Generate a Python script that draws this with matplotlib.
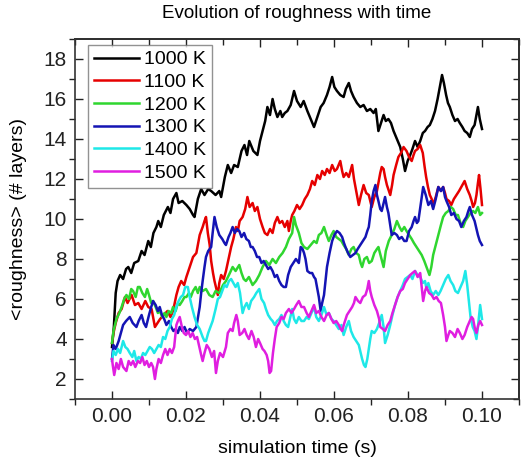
import matplotlib
matplotlib.use("Agg")
import matplotlib.pyplot as plt
from matplotlib.ticker import MultipleLocator, NullFormatter

plt.rcParams['font.family'] = ['Liberation Sans', 'DejaVu Sans']

# roughness traces: (time s, roughness in layers)
s1000 = [(0.0000, 3.6), (0.0005, 4.6), (0.0010, 6.3), (0.0015, 6.9), (0.0022, 7.2), (0.0030, 7.0),
         (0.0038, 7.5), (0.0044, 7.6), (0.0052, 7.3), (0.0060, 7.8), (0.0071, 7.9), (0.0080, 8.4),
         (0.0088, 8.2), (0.0098, 8.9), (0.0105, 8.6), (0.0112, 9.3), (0.0120, 9.6), (0.0125, 9.9),
         (0.0132, 9.6), (0.0140, 10.2), (0.0151, 10.6), (0.0158, 10.3), (0.0165, 11.0), (0.0174, 11.3),
         (0.0180, 10.8), (0.0190, 10.9), (0.0201, 10.7), (0.0210, 10.5), (0.0219, 10.2), (0.0223, 10.1),
         (0.0232, 11.0), (0.0241, 11.5), (0.0250, 11.2), (0.0260, 11.5), (0.0268, 11.4), (0.0280, 11.2),
         (0.0290, 11.4), (0.0295, 11.1), (0.0305, 12.1), (0.0313, 12.7), (0.0322, 12.3), (0.0330, 12.7),
         (0.0340, 12.6), (0.0350, 13.4), (0.0358, 13.7), (0.0365, 13.2), (0.0371, 13.9), (0.0382, 13.4),
         (0.0393, 13.2), (0.0400, 13.9), (0.0407, 14.4), (0.0414, 14.9), (0.0420, 15.6), (0.0427, 15.2),
         (0.0434, 16.0), (0.0440, 15.5), (0.0447, 15.1), (0.0455, 15.4), (0.0460, 15.1), (0.0467, 15.3),
         (0.0474, 15.4), (0.0483, 15.7), (0.0492, 16.4), (0.0500, 15.9), (0.0510, 15.6), (0.0518, 15.9),
         (0.0528, 15.4), (0.0537, 15.0), (0.0546, 14.6), (0.0555, 15.1), (0.0564, 15.6), (0.0572, 15.8),
         (0.0581, 16.2), (0.0588, 16.6), (0.0595, 17.1), (0.0601, 16.6), (0.0608, 16.4), (0.0617, 16.2),
         (0.0626, 16.1), (0.0632, 16.5), (0.0640, 16.8), (0.0646, 16.4), (0.0653, 16.1), (0.0662, 15.8),
         (0.0671, 15.6), (0.0680, 15.7), (0.0689, 15.4), (0.0698, 15.5), (0.0707, 15.3), (0.0713, 15.5),
         (0.0720, 14.4), (0.0727, 14.8), (0.0734, 15.2), (0.0740, 14.9), (0.0747, 15.0), (0.0754, 14.8),
         (0.0761, 14.4), (0.0770, 14.0), (0.0779, 13.6), (0.0786, 13.0), (0.0792, 12.4), (0.0799, 12.9),
         (0.0806, 13.2), (0.0812, 13.5), (0.0819, 13.9), (0.0826, 13.6), (0.0833, 13.9), (0.0840, 14.3),
         (0.0846, 14.4), (0.0853, 14.6), (0.0859, 14.7), (0.0866, 15.0), (0.0873, 15.4), (0.0880, 16.0),
         (0.0886, 16.6), (0.0892, 17.2), (0.0897, 16.8), (0.0903, 16.2), (0.0908, 15.8), (0.0913, 15.6),
         (0.0920, 15.2), (0.0927, 14.9), (0.0934, 15.0), (0.0940, 14.8), (0.0947, 14.6), (0.0953, 14.4),
         (0.0960, 14.3), (0.0967, 14.1), (0.0973, 14.5), (0.0980, 14.7), (0.0985, 15.2), (0.0989, 15.6),
         (0.0994, 15.0), (0.1000, 14.5)]

s1100 = [(0.0000, 3.8), (0.0004, 4.3), (0.0010, 4.8), (0.0018, 5.3), (0.0026, 5.5), (0.0035, 6.1),
         (0.0042, 5.8), (0.0053, 6.2), (0.0062, 5.7), (0.0071, 5.8), (0.0080, 5.5), (0.0090, 5.9),
         (0.0098, 5.6), (0.0107, 5.5), (0.0112, 5.0), (0.0116, 4.6), (0.0130, 5.0), (0.0140, 5.2),
         (0.0150, 5.4), (0.0158, 5.1), (0.0165, 5.4), (0.0174, 6.2), (0.0180, 6.6), (0.0187, 6.9),
         (0.0195, 6.7), (0.0201, 7.1), (0.0210, 7.6), (0.0219, 8.1), (0.0228, 8.3), (0.0237, 9.2),
         (0.0245, 9.6), (0.0250, 9.9), (0.0254, 10.1), (0.0259, 9.3), (0.0264, 8.7), (0.0268, 7.9),
         (0.0273, 7.3), (0.0277, 6.9), (0.0282, 6.5), (0.0286, 6.2), (0.0290, 6.8), (0.0295, 7.2),
         (0.0302, 7.0), (0.0308, 7.4), (0.0315, 8.0), (0.0322, 8.6), (0.0328, 9.0), (0.0335, 9.6),
         (0.0340, 9.4), (0.0345, 9.9), (0.0353, 10.1), (0.0360, 10.5), (0.0366, 11.1), (0.0372, 10.6),
         (0.0380, 10.8), (0.0386, 10.4), (0.0393, 10.6), (0.0400, 10.0), (0.0407, 9.6), (0.0413, 9.3),
         (0.0420, 9.2), (0.0427, 9.5), (0.0434, 9.3), (0.0440, 9.8), (0.0447, 10.1), (0.0453, 9.8),
         (0.0460, 9.9), (0.0467, 9.6), (0.0474, 9.9), (0.0478, 9.4), (0.0483, 9.9), (0.0487, 10.2),
         (0.0493, 10.4), (0.0500, 10.7), (0.0507, 10.5), (0.0514, 10.7), (0.0521, 11.0), (0.0528, 11.2),
         (0.0535, 11.5), (0.0541, 11.9), (0.0548, 11.7), (0.0555, 12.2), (0.0562, 12.0), (0.0568, 12.4),
         (0.0575, 12.2), (0.0581, 12.5), (0.0588, 12.3), (0.0595, 12.7), (0.0602, 12.4), (0.0608, 12.5),
         (0.0617, 12.9), (0.0622, 12.4), (0.0626, 12.1), (0.0633, 12.3), (0.0640, 12.1), (0.0649, 12.7),
         (0.0654, 12.0), (0.0658, 11.6), (0.0663, 11.1), (0.0667, 10.7), (0.0673, 11.2), (0.0680, 11.7),
         (0.0687, 11.3), (0.0694, 11.2), (0.0702, 10.6), (0.0709, 11.1), (0.0716, 11.4), (0.0720, 11.8),
         (0.0725, 12.3), (0.0729, 12.6), (0.0734, 12.5), (0.0738, 12.1), (0.0743, 11.7), (0.0752, 11.2),
         (0.0757, 11.7), (0.0761, 12.2), (0.0768, 12.7), (0.0774, 13.1), (0.0781, 13.3), (0.0788, 13.6),
         (0.0796, 13.4), (0.0803, 13.1), (0.0810, 12.9), (0.0815, 13.2), (0.0819, 13.4), (0.0826, 13.5),
         (0.0833, 13.7), (0.0840, 13.3), (0.0845, 12.6), (0.0849, 12.1), (0.0854, 11.6), (0.0859, 11.2),
         (0.0864, 11.0), (0.0868, 10.7), (0.0875, 11.1), (0.0882, 11.6), (0.0889, 11.4), (0.0895, 11.6),
         (0.0900, 11.3), (0.0904, 11.0), (0.0911, 10.9), (0.0917, 10.7), (0.0924, 11.0), (0.0931, 11.2),
         (0.0938, 11.4), (0.0944, 11.6), (0.0953, 11.9), (0.0960, 11.5), (0.0967, 11.2), (0.0972, 10.9),
         (0.0976, 10.6), (0.0981, 10.8), (0.0985, 11.2), (0.0989, 11.8), (0.0992, 12.2), (0.0996, 11.5),
         (0.1000, 10.7)]

s1200 = [(0.0000, 3.8), (0.0004, 4.4), (0.0012, 5.0), (0.0020, 5.3), (0.0026, 5.6), (0.0033, 6.0),
         (0.0039, 6.2), (0.0046, 6.0), (0.0052, 6.5), (0.0057, 6.4), (0.0064, 6.1), (0.0070, 6.6),
         (0.0075, 6.6), (0.0082, 6.3), (0.0089, 6.1), (0.0095, 6.5), (0.0100, 6.2), (0.0106, 5.8),
         (0.0111, 5.9), (0.0118, 5.6), (0.0124, 5.3), (0.0129, 5.4), (0.0136, 5.1), (0.0142, 5.3),
         (0.0147, 5.1), (0.0153, 5.4), (0.0160, 5.3), (0.0165, 5.6), (0.0172, 5.4), (0.0178, 5.8),
         (0.0183, 5.7), (0.0190, 5.9), (0.0196, 6.1), (0.0201, 6.1), (0.0208, 6.3), (0.0213, 6.1),
         (0.0219, 6.4), (0.0226, 6.6), (0.0232, 6.3), (0.0237, 6.6), (0.0245, 6.4), (0.0254, 6.5),
         (0.0263, 6.2), (0.0272, 6.1), (0.0280, 6.4), (0.0290, 6.3), (0.0300, 6.7), (0.0308, 6.9),
         (0.0316, 7.2), (0.0326, 7.6), (0.0334, 7.4), (0.0344, 7.7), (0.0350, 7.3), (0.0356, 7.0),
         (0.0362, 6.9), (0.0370, 7.1), (0.0380, 6.7), (0.0389, 6.9), (0.0398, 7.2), (0.0407, 7.6),
         (0.0416, 7.9), (0.0425, 7.7), (0.0434, 8.0), (0.0443, 7.8), (0.0452, 8.1), (0.0461, 8.3),
         (0.0470, 8.6), (0.0478, 9.0), (0.0487, 9.3), (0.0492, 10.1), (0.0497, 9.7), (0.0505, 9.3),
         (0.0512, 8.8), (0.0519, 8.6), (0.0528, 8.5), (0.0537, 8.7), (0.0546, 8.9), (0.0553, 8.8),
         (0.0559, 9.2), (0.0566, 9.3), (0.0573, 9.6), (0.0580, 9.2), (0.0586, 8.9), (0.0593, 9.2),
         (0.0599, 9.4), (0.0606, 9.1), (0.0613, 9.0), (0.0620, 8.9), (0.0626, 8.7), (0.0633, 8.5),
         (0.0640, 8.2), (0.0647, 8.5), (0.0653, 8.6), (0.0660, 8.3), (0.0667, 8.2), (0.0672, 7.8),
         (0.0676, 7.6), (0.0682, 8.0), (0.0689, 8.1), (0.0695, 7.8), (0.0702, 7.9), (0.0709, 8.3),
         (0.0716, 8.5), (0.0720, 8.6), (0.0727, 8.1), (0.0734, 7.6), (0.0740, 8.4), (0.0748, 8.9),
         (0.0756, 9.2), (0.0763, 9.5), (0.0770, 9.9), (0.0777, 9.6), (0.0783, 9.4), (0.0790, 9.6),
         (0.0796, 9.4), (0.0803, 9.2), (0.0810, 9.0), (0.0816, 8.8), (0.0823, 8.6), (0.0830, 8.4),
         (0.0837, 8.2), (0.0844, 7.9), (0.0850, 7.6), (0.0858, 7.2), (0.0863, 7.6), (0.0868, 8.2),
         (0.0875, 8.7), (0.0882, 9.2), (0.0889, 9.7), (0.0895, 10.1), (0.0902, 10.3), (0.0909, 10.4),
         (0.0916, 10.6), (0.0922, 10.5), (0.0929, 10.2), (0.0935, 10.2), (0.0942, 9.8), (0.0949, 9.6),
         (0.0955, 9.9), (0.0962, 10.1), (0.0969, 10.3), (0.0976, 10.4), (0.0982, 10.3), (0.0989, 10.6),
         (0.0995, 10.2), (0.1000, 10.3)]

s1300 = [(0.0000, 3.0), (0.0004, 3.7), (0.0010, 3.5), (0.0018, 3.9), (0.0024, 4.3), (0.0030, 4.7),
         (0.0038, 4.9), (0.0048, 5.1), (0.0056, 4.8), (0.0066, 4.6), (0.0072, 4.9), (0.0080, 5.2),
         (0.0086, 4.8), (0.0092, 4.6), (0.0100, 5.2), (0.0106, 5.6), (0.0111, 5.9), (0.0118, 5.7),
         (0.0124, 5.4), (0.0129, 5.6), (0.0135, 5.2), (0.0141, 5.0), (0.0147, 4.7), (0.0154, 4.9),
         (0.0160, 4.6), (0.0166, 4.4), (0.0172, 4.5), (0.0178, 4.3), (0.0183, 4.6), (0.0190, 4.4),
         (0.0196, 4.6), (0.0203, 4.3), (0.0210, 4.5), (0.0219, 4.4), (0.0228, 4.6), (0.0237, 5.6),
         (0.0241, 6.3), (0.0245, 6.9), (0.0250, 7.6), (0.0254, 8.1), (0.0260, 8.4), (0.0268, 8.6),
         (0.0272, 9.3), (0.0277, 10.1), (0.0283, 9.6), (0.0290, 9.2), (0.0298, 9.0), (0.0304, 8.8),
         (0.0308, 8.7), (0.0315, 9.1), (0.0320, 9.3), (0.0326, 9.6), (0.0332, 9.3), (0.0338, 9.5),
         (0.0344, 9.4), (0.0350, 9.1), (0.0357, 9.3), (0.0363, 9.0), (0.0370, 8.9), (0.0375, 8.6),
         (0.0380, 8.6), (0.0386, 8.4), (0.0392, 8.1), (0.0398, 8.1), (0.0404, 7.8), (0.0410, 7.9),
         (0.0416, 7.7), (0.0422, 7.5), (0.0428, 7.6), (0.0434, 7.4), (0.0440, 7.1), (0.0446, 7.2),
         (0.0452, 6.9), (0.0458, 6.7), (0.0464, 6.6), (0.0470, 6.6), (0.0476, 7.2), (0.0483, 7.6),
         (0.0490, 7.8), (0.0497, 8.0), (0.0505, 7.8), (0.0510, 8.6), (0.0515, 8.5), (0.0519, 8.3),
         (0.0523, 8.0), (0.0528, 7.4), (0.0535, 7.3), (0.0541, 7.3), (0.0546, 7.1), (0.0550, 7.0),
         (0.0555, 6.5), (0.0559, 6.1), (0.0564, 5.4), (0.0568, 5.8), (0.0573, 6.2), (0.0577, 6.9),
         (0.0581, 7.6), (0.0588, 8.3), (0.0595, 8.9), (0.0601, 9.2), (0.0608, 9.4), (0.0615, 9.3),
         (0.0622, 9.1), (0.0627, 8.8), (0.0631, 8.6), (0.0638, 8.3), (0.0644, 8.1), (0.0651, 8.2),
         (0.0658, 8.3), (0.0664, 8.5), (0.0671, 8.7), (0.0678, 8.9), (0.0685, 9.1), (0.0690, 9.4),
         (0.0694, 9.6), (0.0698, 10.2), (0.0702, 10.9), (0.0707, 11.4), (0.0712, 11.7), (0.0716, 11.2),
         (0.0720, 10.9), (0.0725, 10.5), (0.0729, 10.4), (0.0734, 10.8), (0.0738, 11.1), (0.0743, 10.6),
         (0.0747, 10.3), (0.0752, 9.7), (0.0756, 9.2), (0.0763, 9.3), (0.0770, 9.2), (0.0776, 9.0),
         (0.0783, 9.1), (0.0790, 8.9), (0.0796, 8.9), (0.0803, 9.4), (0.0810, 9.6), (0.0815, 9.9),
         (0.0819, 10.1), (0.0824, 9.8), (0.0828, 9.9), (0.0835, 10.8), (0.0841, 11.6), (0.0848, 11.2),
         (0.0855, 10.7), (0.0862, 10.9), (0.0868, 10.5), (0.0875, 11.0), (0.0882, 11.6), (0.0889, 11.4),
         (0.0895, 11.6), (0.0900, 11.1), (0.0904, 10.9), (0.0911, 10.6), (0.0917, 10.2), (0.0924, 10.3),
         (0.0931, 10.0), (0.0938, 9.9), (0.0944, 9.6), (0.0951, 9.9), (0.0958, 10.1), (0.0963, 10.4),
         (0.0967, 10.6), (0.0973, 10.2), (0.0980, 9.9), (0.0985, 9.5), (0.0989, 9.2), (0.0994, 8.9),
         (0.1000, 8.7)]

s1400 = [(0.0000, 2.9), (0.0004, 3.4), (0.0010, 3.2), (0.0016, 3.5), (0.0022, 3.3), (0.0030, 3.9),
         (0.0036, 3.6), (0.0042, 3.5), (0.0048, 3.3), (0.0055, 3.1), (0.0060, 3.4), (0.0066, 2.9),
         (0.0072, 3.1), (0.0078, 3.0), (0.0084, 3.3), (0.0090, 3.2), (0.0096, 3.4), (0.0102, 3.6),
         (0.0108, 3.5), (0.0114, 3.3), (0.0120, 3.5), (0.0126, 3.7), (0.0132, 3.6), (0.0138, 4.1),
         (0.0144, 4.0), (0.0150, 4.4), (0.0156, 4.6), (0.0162, 5.0), (0.0168, 5.2), (0.0174, 5.6),
         (0.0180, 5.9), (0.0186, 6.1), (0.0192, 6.2), (0.0198, 6.6), (0.0205, 6.6), (0.0210, 6.1),
         (0.0216, 5.6), (0.0223, 5.1), (0.0230, 4.7), (0.0237, 4.5), (0.0245, 4.1), (0.0250, 3.9),
         (0.0254, 3.9), (0.0260, 4.3), (0.0266, 4.6), (0.0272, 4.9), (0.0280, 5.5), (0.0286, 6.0),
         (0.0292, 6.1), (0.0298, 6.4), (0.0304, 6.7), (0.0310, 6.6), (0.0316, 6.9), (0.0322, 7.0),
         (0.0328, 6.8), (0.0334, 6.6), (0.0340, 6.8), (0.0346, 6.3), (0.0353, 5.3), (0.0358, 5.6),
         (0.0364, 5.8), (0.0370, 5.5), (0.0376, 5.9), (0.0384, 6.1), (0.0390, 6.3), (0.0398, 6.5),
         (0.0404, 6.0), (0.0411, 5.8), (0.0416, 5.5), (0.0422, 5.2), (0.0429, 5.0), (0.0434, 4.9),
         (0.0440, 4.7), (0.0446, 4.9), (0.0452, 5.0), (0.0458, 5.2), (0.0464, 4.9), (0.0470, 4.7),
         (0.0476, 4.6), (0.0482, 5.1), (0.0487, 5.5), (0.0492, 5.0), (0.0498, 4.8), (0.0505, 5.1),
         (0.0512, 4.9), (0.0519, 4.9), (0.0526, 5.1), (0.0532, 5.0), (0.0539, 5.3), (0.0546, 5.6),
         (0.0552, 5.1), (0.0559, 4.9), (0.0566, 5.2), (0.0573, 5.6), (0.0580, 5.2), (0.0586, 5.3),
         (0.0593, 5.0), (0.0599, 4.9), (0.0606, 4.7), (0.0613, 4.5), (0.0620, 4.7), (0.0626, 4.2),
         (0.0633, 4.6), (0.0640, 4.9), (0.0646, 4.4), (0.0653, 4.1), (0.0660, 3.9), (0.0667, 3.7),
         (0.0672, 3.3), (0.0676, 3.0), (0.0681, 2.7), (0.0685, 2.6), (0.0690, 3.0), (0.0694, 3.5),
         (0.0698, 4.0), (0.0702, 4.4), (0.0709, 4.3), (0.0716, 4.5), (0.0722, 4.8), (0.0729, 5.2),
         (0.0734, 4.6), (0.0738, 3.8), (0.0745, 4.2), (0.0752, 4.7), (0.0758, 5.2), (0.0765, 5.7),
         (0.0772, 6.1), (0.0779, 6.4), (0.0786, 6.7), (0.0792, 7.0), (0.0799, 7.1), (0.0806, 7.2),
         (0.0812, 7.0), (0.0819, 7.4), (0.0826, 7.2), (0.0833, 7.1), (0.0840, 6.8), (0.0846, 6.9),
         (0.0850, 6.5), (0.0855, 6.8), (0.0861, 6.4), (0.0868, 6.2), (0.0875, 6.4), (0.0882, 6.2),
         (0.0888, 6.4), (0.0895, 6.7), (0.0902, 7.0), (0.0909, 7.2), (0.0915, 6.9), (0.0922, 6.7),
         (0.0928, 6.4), (0.0935, 6.3), (0.0942, 6.6), (0.0949, 6.9), (0.0955, 7.4), (0.0960, 6.7),
         (0.0965, 5.8), (0.0969, 5.1), (0.0975, 4.6), (0.0980, 4.4), (0.0985, 4.0), (0.0989, 4.6),
         (0.0993, 5.3), (0.0995, 5.7), (0.1000, 5.0)]

s1500 = [(0.0000, 3.0), (0.0002, 2.7), (0.0006, 2.2), (0.0012, 2.8), (0.0018, 2.5), (0.0024, 3.0),
         (0.0030, 2.6), (0.0039, 2.4), (0.0045, 2.9), (0.0051, 2.7), (0.0057, 2.9), (0.0063, 2.6),
         (0.0070, 2.9), (0.0076, 2.8), (0.0082, 3.1), (0.0088, 2.7), (0.0094, 2.9), (0.0100, 2.6),
         (0.0106, 2.8), (0.0111, 2.6), (0.0116, 2.0), (0.0120, 2.5), (0.0126, 3.0), (0.0132, 2.8),
         (0.0138, 3.2), (0.0144, 3.5), (0.0150, 3.2), (0.0156, 3.5), (0.0162, 3.3), (0.0168, 3.6),
         (0.0174, 4.7), (0.0178, 4.9), (0.0183, 5.1), (0.0189, 4.6), (0.0194, 4.3), (0.0200, 4.2),
         (0.0206, 4.4), (0.0212, 4.1), (0.0218, 4.3), (0.0224, 4.0), (0.0230, 4.1), (0.0236, 3.6),
         (0.0241, 3.2), (0.0245, 2.9), (0.0250, 3.3), (0.0256, 3.7), (0.0263, 3.5), (0.0270, 3.1),
         (0.0276, 3.4), (0.0281, 2.3), (0.0286, 2.9), (0.0292, 3.3), (0.0300, 3.1), (0.0308, 3.6),
         (0.0313, 4.3), (0.0320, 4.5), (0.0326, 4.4), (0.0330, 4.8), (0.0336, 5.2), (0.0340, 4.9),
         (0.0345, 4.2), (0.0352, 4.3), (0.0358, 4.5), (0.0364, 4.2), (0.0370, 4.0), (0.0377, 4.4),
         (0.0383, 4.1), (0.0389, 3.6), (0.0395, 4.0), (0.0400, 3.8), (0.0407, 3.5), (0.0412, 3.4),
         (0.0418, 3.2), (0.0422, 2.9), (0.0426, 2.3), (0.0430, 2.4), (0.0435, 3.3), (0.0440, 4.0),
         (0.0445, 4.6), (0.0452, 4.8), (0.0458, 5.1), (0.0464, 5.0), (0.0470, 5.3), (0.0478, 5.5),
         (0.0485, 5.3), (0.0492, 5.5), (0.0498, 5.7), (0.0505, 5.9), (0.0512, 5.6), (0.0519, 5.6),
         (0.0526, 5.3), (0.0532, 5.1), (0.0539, 5.4), (0.0546, 5.7), (0.0552, 5.3), (0.0559, 5.4),
         (0.0566, 5.1), (0.0573, 4.9), (0.0580, 5.2), (0.0586, 5.3), (0.0593, 5.0), (0.0599, 4.8),
         (0.0606, 4.9), (0.0613, 4.7), (0.0618, 4.5), (0.0622, 4.4), (0.0628, 4.8), (0.0635, 5.2),
         (0.0642, 5.4), (0.0649, 5.6), (0.0654, 5.8), (0.0658, 6.1), (0.0665, 5.9), (0.0671, 5.8),
         (0.0678, 6.1), (0.0685, 6.2), (0.0690, 6.5), (0.0694, 6.9), (0.0698, 6.4), (0.0702, 6.1),
         (0.0709, 5.7), (0.0716, 5.4), (0.0722, 5.0), (0.0725, 4.6), (0.0732, 4.5), (0.0738, 4.4),
         (0.0745, 4.7), (0.0752, 4.9), (0.0758, 5.3), (0.0765, 5.7), (0.0772, 6.1), (0.0779, 6.4),
         (0.0786, 6.5), (0.0792, 6.8), (0.0799, 7.0), (0.0806, 7.2), (0.0812, 7.3), (0.0819, 7.4),
         (0.0826, 7.1), (0.0833, 7.3), (0.0837, 6.6), (0.0841, 5.9), (0.0846, 6.4), (0.0850, 6.6),
         (0.0857, 6.3), (0.0864, 6.2), (0.0870, 6.0), (0.0877, 6.1), (0.0883, 5.9), (0.0889, 5.8),
         (0.0895, 5.2), (0.0900, 4.6), (0.0904, 3.9), (0.0909, 4.2), (0.0913, 4.4), (0.0920, 4.3),
         (0.0927, 4.1), (0.0934, 4.5), (0.0940, 4.3), (0.0947, 4.0), (0.0953, 4.2), (0.0960, 4.6),
         (0.0967, 4.9), (0.0972, 5.1), (0.0976, 5.0), (0.0981, 4.5), (0.0985, 4.3), (0.0990, 4.7),
         (0.0995, 4.9), (0.1000, 4.7)]

labels = ['1000 K', '1100 K', '1200 K', '1300 K', '1400 K', '1500 K']
colors = ['black', '#e60000', '#2fd62f', '#1414b4', '#1ee8e8', '#e01ee0']
series = [s1000, s1100, s1200, s1300, s1400, s1500]

fig = plt.figure(figsize=(5.21, 4.58), dpi=100)
ax = fig.add_axes([75/521, 59/458, 444/521, 360/458])

for s, lab, c in zip(series, labels, colors):
    t, r = zip(*s)
    ax.plot(t, r, color=c, lw=1.8, label=lab)

ax.set_xlim(-0.01, 0.11)
ax.set_ylim(1, 19)
ax.xaxis.set_major_locator(MultipleLocator(0.02))
ax.xaxis.set_minor_locator(MultipleLocator(0.01))
ax.yaxis.set_major_locator(MultipleLocator(2))
ax.yaxis.set_minor_locator(MultipleLocator(1))
ax.xaxis.set_major_formatter(plt.FuncFormatter(lambda v, p: f"{v:.2f}"))

# origin style: major ticks inside, minor ticks outside on bottom/left
ax.tick_params(which='major', direction='in', length=6, width=1, labelsize=15, colors='#222222', pad=6)
ax.tick_params(which='minor', direction='out', length=4, width=1, colors='#222222')
for sp in ax.spines.values():
    sp.set_linewidth(1.2)
    sp.set_color('#333333')

# mirrored ticks on top and right, all pointing inward
top = ax.secondary_xaxis('top')
top.xaxis.set_major_locator(MultipleLocator(0.02))
top.xaxis.set_minor_locator(MultipleLocator(0.01))
top.xaxis.set_major_formatter(NullFormatter())
top.tick_params(which='major', direction='in', length=6, width=1, colors='#222222')
top.tick_params(which='minor', direction='in', length=4, width=1, colors='#222222')
top.spines['top'].set_linewidth(1.2)
right = ax.secondary_yaxis('right')
right.yaxis.set_major_locator(MultipleLocator(2))
right.yaxis.set_minor_locator(MultipleLocator(1))
right.yaxis.set_major_formatter(NullFormatter())
right.tick_params(which='major', direction='in', length=6, width=1, colors='#222222')
right.tick_params(which='minor', direction='in', length=4, width=1, colors='#222222')
right.spines['right'].set_linewidth(1.2)

ax.set_xlabel('simulation time (s)', fontsize=14, labelpad=10)
ax.set_ylabel('<roughness> (# layers)', fontsize=14, labelpad=12)
ax.set_title('Evolution of roughness with time', fontsize=13.5, pad=15)

leg = ax.legend(loc='upper left', bbox_to_anchor=(13/444, 354/360), borderaxespad=0,
                fontsize=14, frameon=True, fancybox=False, edgecolor='#777777',
                handlelength=2.3, handletextpad=0.3, labelspacing=0.26, borderpad=0.3)
leg.get_frame().set_linewidth(1.0)

fig.savefig('out.png', dpi=100)
